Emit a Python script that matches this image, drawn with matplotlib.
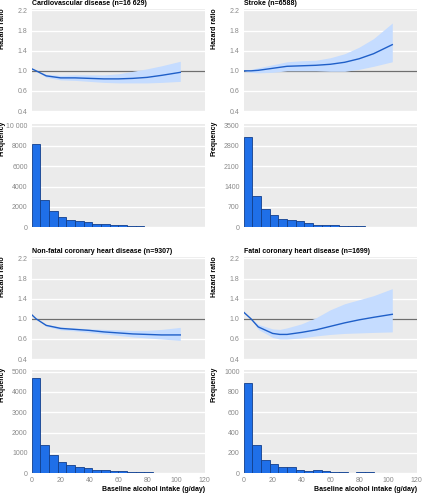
import matplotlib.pyplot as plt
import matplotlib as mpl
import numpy as np

# ---- data ----
titles = ["Cardiovascular disease (n=16 629)", "Stroke (n=6588)",
          "Non-fatal coronary heart disease (n=9307)", "Fatal coronary heart disease (n=1699)"]

# spline curves (alcohol g/day -> hazard ratio)
x_cvd = [0, 3, 10, 20, 30, 40, 50, 60, 70, 80, 90, 103]
hr_cvd = [1.04, 1.0, 0.90, 0.86, 0.86, 0.85, 0.84, 0.84, 0.85, 0.87, 0.91, 0.97]
up_cvd = [1.04, 1.0, 0.93, 0.91, 0.92, 0.92, 0.92, 0.94, 0.99, 1.04, 1.10, 1.19]
lo_cvd = [1.04, 1.0, 0.87, 0.82, 0.81, 0.79, 0.77, 0.76, 0.76, 0.76, 0.77, 0.79]

x_str = [0, 5, 10, 20, 30, 40, 50, 60, 70, 80, 90, 103]
hr_str = [1.0, 1.0, 1.01, 1.05, 1.09, 1.10, 1.11, 1.13, 1.17, 1.24, 1.34, 1.52]
up_str = [1.0, 1.03, 1.06, 1.12, 1.18, 1.20, 1.21, 1.26, 1.34, 1.47, 1.64, 1.95]
lo_str = [1.0, 0.97, 0.96, 0.97, 1.0, 1.0, 1.0, 0.99, 0.99, 1.03, 1.09, 1.18]

x_nf = [0, 3, 10, 20, 30, 40, 50, 60, 70, 80, 90, 103]
hr_nf = [1.08, 1.0, 0.87, 0.81, 0.79, 0.77, 0.74, 0.72, 0.70, 0.69, 0.68, 0.68]
up_nf = [1.08, 1.0, 0.89, 0.84, 0.82, 0.80, 0.79, 0.78, 0.77, 0.77, 0.79, 0.83]
lo_nf = [1.08, 1.0, 0.85, 0.78, 0.76, 0.73, 0.70, 0.67, 0.64, 0.62, 0.60, 0.57]

x_fat = [0, 5, 10, 20, 25, 30, 40, 50, 60, 70, 80, 90, 103]
hr_fat = [1.13, 1.0, 0.84, 0.71, 0.69, 0.69, 0.73, 0.78, 0.85, 0.92, 0.98, 1.03, 1.09]
up_fat = [1.13, 1.0, 0.89, 0.80, 0.79, 0.82, 0.90, 1.02, 1.18, 1.30, 1.38, 1.46, 1.60]
lo_fat = [1.13, 1.0, 0.79, 0.63, 0.60, 0.60, 0.62, 0.66, 0.69, 0.71, 0.72, 0.73, 0.74]

# histograms: 6 g/day bins from 0 to 102
bin_edges = np.arange(0, 103, 6)
freq_cvd = [8200, 2650, 1590, 990, 700, 600, 500, 330, 265, 200, 200, 100, 70, 60, 40, 35, 30]
freq_str = [3120, 1080, 640, 405, 280, 255, 210, 140, 80, 80, 70, 35, 25, 25, 15, 15, 10]
freq_nf = [4670, 1390, 880, 560, 380, 315, 250, 165, 150, 100, 100, 65, 50, 50, 30, 20, 15]
freq_fat = [885, 278, 126, 90, 60, 56, 36, 23, 30, 20, 16, 16, 2, 10, 8, 3, 2]

hr_ticks = [0.2, 0.6, 1.0, 1.4, 1.8, 2.2]
hr_ticklabels = ["0.4", "0.6", "1.0", "1.4", "1.8", "2.2"]
hist_ymax = [10000, 3500, 5000, 1000]
hist_step = [2000, 700, 1000, 200]

curves = [(x_cvd, hr_cvd, up_cvd, lo_cvd), (x_str, hr_str, up_str, lo_str),
          (x_nf, hr_nf, up_nf, lo_nf), (x_fat, hr_fat, up_fat, lo_fat)]
freqs = [freq_cvd, freq_str, freq_nf, freq_fat]

# ---- style ----
plt.rcParams['font.family'] = ['Liberation Sans', 'DejaVu Sans']
bg = '#ebebeb'
line_col = '#1f5fc8'
band_col = '#c5dcff'
bar_col = '#1f6fe8'
edge_col = '#123f8c'
tick_col = '#8a8a8a'
lab_fs = 5.0
tick_fs = 5.0

fig = plt.figure(figsize=(4.24, 4.96), dpi=100)

lefts = [0.075, 0.575]
hr_bottoms = [0.774, 0.274]
hist_bottoms = [0.542, 0.046]
w, h = 0.408, 0.208


def style_ax(ax):
    ax.set_facecolor(bg)
    for s in ax.spines.values():
        s.set_visible(False)
    ax.tick_params(length=0, labelsize=tick_fs, labelcolor=tick_col, pad=3)
    ax.grid(axis='y', color='white', linewidth=1.0)
    ax.set_axisbelow(True)
    ax.set_xlim(0, 120)


for i in range(4):
    col = i % 2
    row = i // 2
    xs, hr, up, lo = curves[i]

    ax = fig.add_axes([lefts[col], hr_bottoms[row], w, h])
    style_ax(ax)
    ax.axhline(1.0, color='#6e6e6e', linewidth=0.9, zorder=1)
    ax.fill_between(xs, lo, up, color=band_col, linewidth=0, zorder=2)
    ax.plot(xs, hr, color=line_col, linewidth=1.0, zorder=3)
    ax.set_ylim(0.18, 2.23)
    ax.set_yticks(hr_ticks)
    ax.set_yticklabels(hr_ticklabels)
    ax.set_xticks([0, 20, 40, 60, 80, 100, 120])
    ax.set_xticklabels([])
    ax.set_title(titles[i], loc='left', fontsize=lab_fs, fontweight='bold', pad=2.5)
    ax.set_ylabel("Hazard ratio", fontsize=lab_fs, fontweight='bold')
    ax.yaxis.set_label_coords(-0.15, 0.81)

    axh = fig.add_axes([lefts[col], hist_bottoms[row], w, h])
    style_ax(axh)
    axh.bar(bin_edges[:-1], freqs[i], width=6, align='edge', color=bar_col,
            edgecolor=edge_col, linewidth=0.6, zorder=3)
    axh.set_ylim(0, hist_ymax[i] * 1.015)
    yt = np.arange(0, hist_ymax[i] + 1, hist_step[i])
    axh.set_yticks(yt)
    axh.set_yticklabels(["10 000" if v == 10000 else str(v) for v in yt])
    axh.set_xticks([0, 20, 40, 60, 80, 100, 120])
    if row == 1:
        axh.set_xlabel("Baseline alcohol intake (g/day)", fontsize=lab_fs,
                       fontweight='bold', loc='right', labelpad=1.5)
    else:
        axh.set_xticklabels([])
    axh.set_ylabel("Frequency", fontsize=lab_fs, fontweight='bold')
    axh.yaxis.set_label_coords(-0.15, 0.86)

fig.savefig("out.png", dpi=100)
